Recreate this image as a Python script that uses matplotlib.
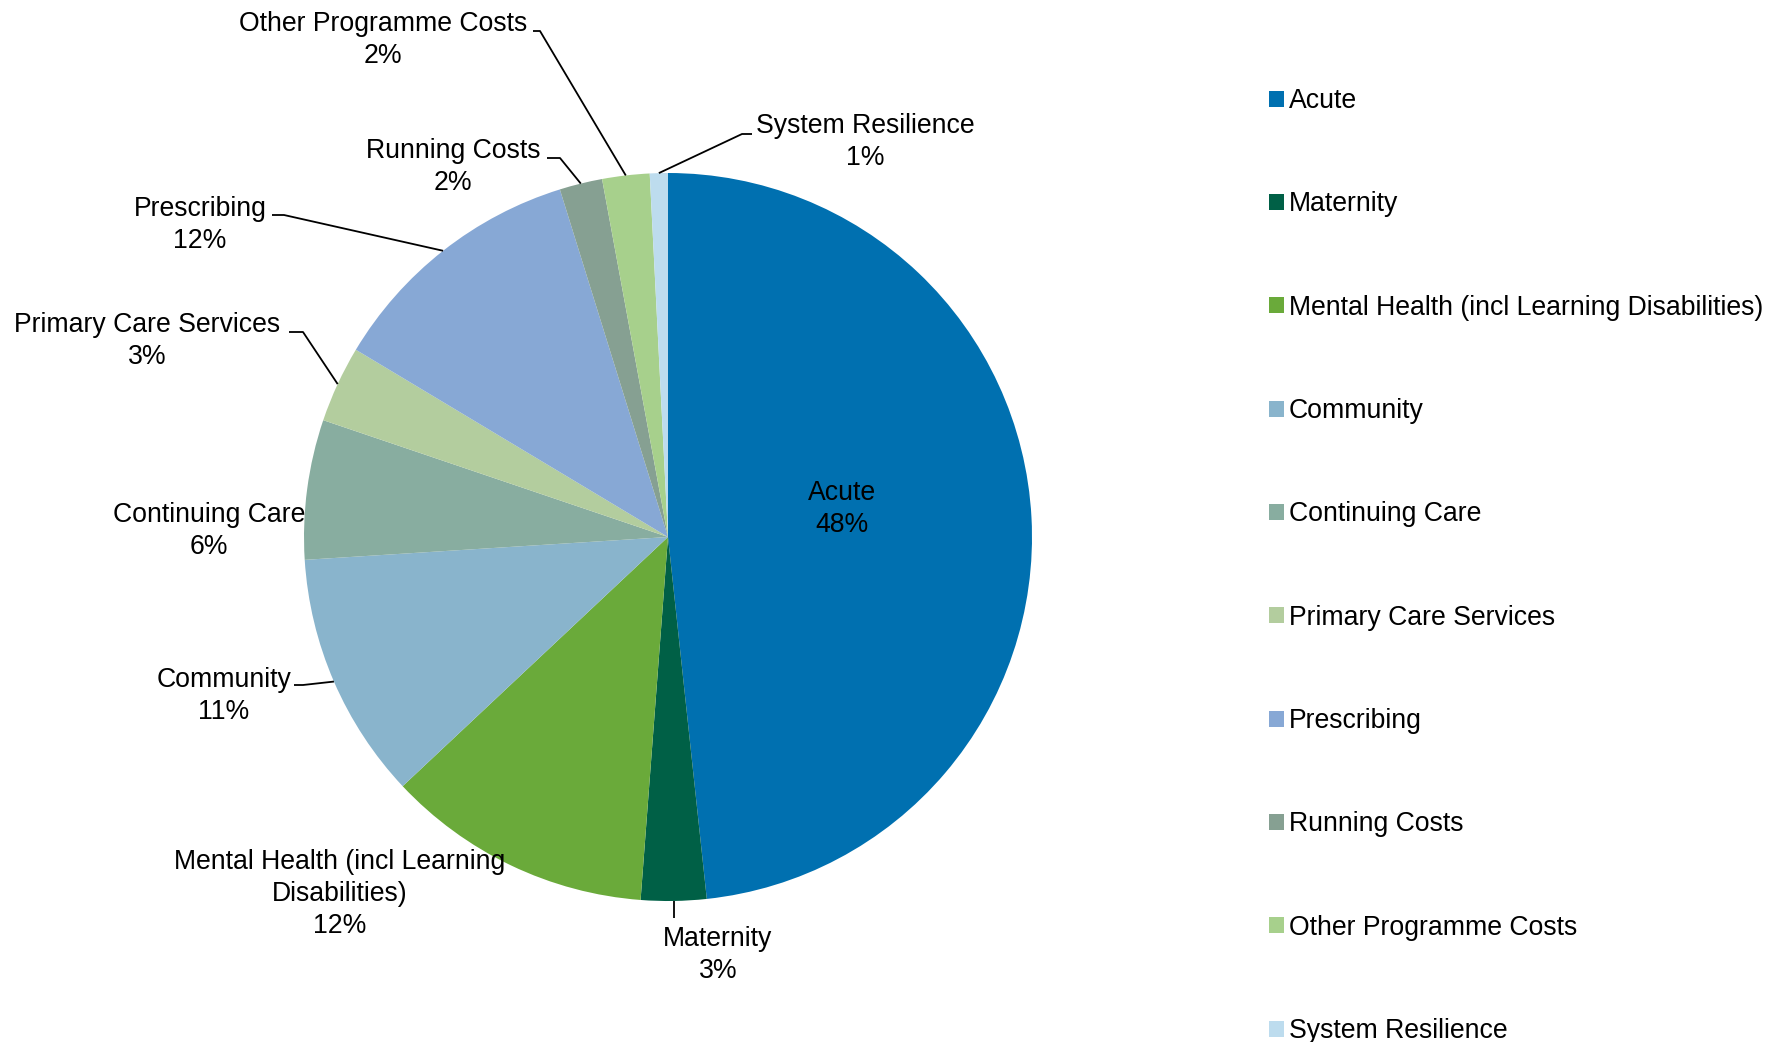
import matplotlib
matplotlib.use("Agg")
import matplotlib.pyplot as plt
import numpy as np

plt.rcParams["font.family"] = ["Liberation Sans", "DejaVu Sans"]

categories = [
    "Acute",
    "Maternity",
    "Mental Health (incl Learning Disabilities)",
    "Community",
    "Continuing Care",
    "Primary Care Services",
    "Prescribing",
    "Running Costs",
    "Other Programme Costs",
    "System Resilience",
]
shares = [48.3, 2.9, 11.8, 11.0, 6.2, 3.4, 11.6, 1.9, 2.1, 0.8]
colors = ["#0070B0", "#006046", "#6AAA3A", "#89B4CC", "#88ADA0",
          "#B3CD9E", "#87A8D5", "#86A092", "#A7D08C", "#BDDCEE"]

W, H = 1773, 1042
DPI = 100
fig = plt.figure(figsize=(W / DPI, H / DPI), dpi=DPI)
ax = fig.add_axes([0, 0, 1, 1])


def fy(y):
    # pixel row from top -> data y
    return H - y


cx, cy, r = 668, 537, 364
wedges, _ = ax.pie(shares, colors=colors, startangle=90, counterclock=False,
                   center=(cx, fy(cy)), radius=r, frame=True,
                   wedgeprops=dict(linewidth=0))
ax.set_xlim(0, W)
ax.set_ylim(0, H)
ax.set_aspect("auto")
ax.axis("off")

FS = 19.2
# label text centre, and leader elbow/end (None = no leader)
label_pos = [
    ((842, 509), None),
    ((718, 955), [(674, 918)]),
    ((340, 894), None),
    ((224, 696), [(303, 685), (294, 685)]),
    ((209, 531), None),
    ((147, 341), [(303, 332), (289, 332)]),
    ((200, 225), [(284, 215), (272, 215)]),
    ((453, 167), [(560, 158), (547, 158)]),
    ((383, 40), [(540, 31), (533, 31)]),
    ((865, 142), [(742, 134), (752, 134)]),
]
label_names = list(categories)
label_names[2] = "Mental Health (incl Learning\nDisabilities)"

for w, name, val, (tpos, leader) in zip(wedges, label_names, shares, label_pos):
    ax.text(tpos[0], fy(tpos[1]), f"{name}\n{val:.0f}%", ha="center",
            va="center", fontsize=FS, color="black", linespacing=1.28)
    if leader:
        ang = np.deg2rad((w.theta1 + w.theta2) / 2)
        x0 = cx + r * np.cos(ang)
        y0 = fy(cy) + r * np.sin(ang)
        xs = [x0] + [p[0] for p in leader]
        ys = [y0] + [fy(p[1]) for p in leader]
        if len(leader) == 1:
            xs = [x0, x0]
            ys = [y0, fy(leader[0][1])]
        ax.plot(xs, ys, color="black", lw=1.3, solid_capstyle="butt")

leg = fig.legend(wedges, categories, loc="upper left",
                 bbox_to_anchor=(1269 / W, 1 - 88 / H), frameon=False,
                 fontsize=FS, handlelength=0.55, handleheight=0.55,
                 handletextpad=0.2, labelspacing=2.90, borderpad=0,
                 borderaxespad=0)

fig.savefig("out.png", dpi=DPI)
